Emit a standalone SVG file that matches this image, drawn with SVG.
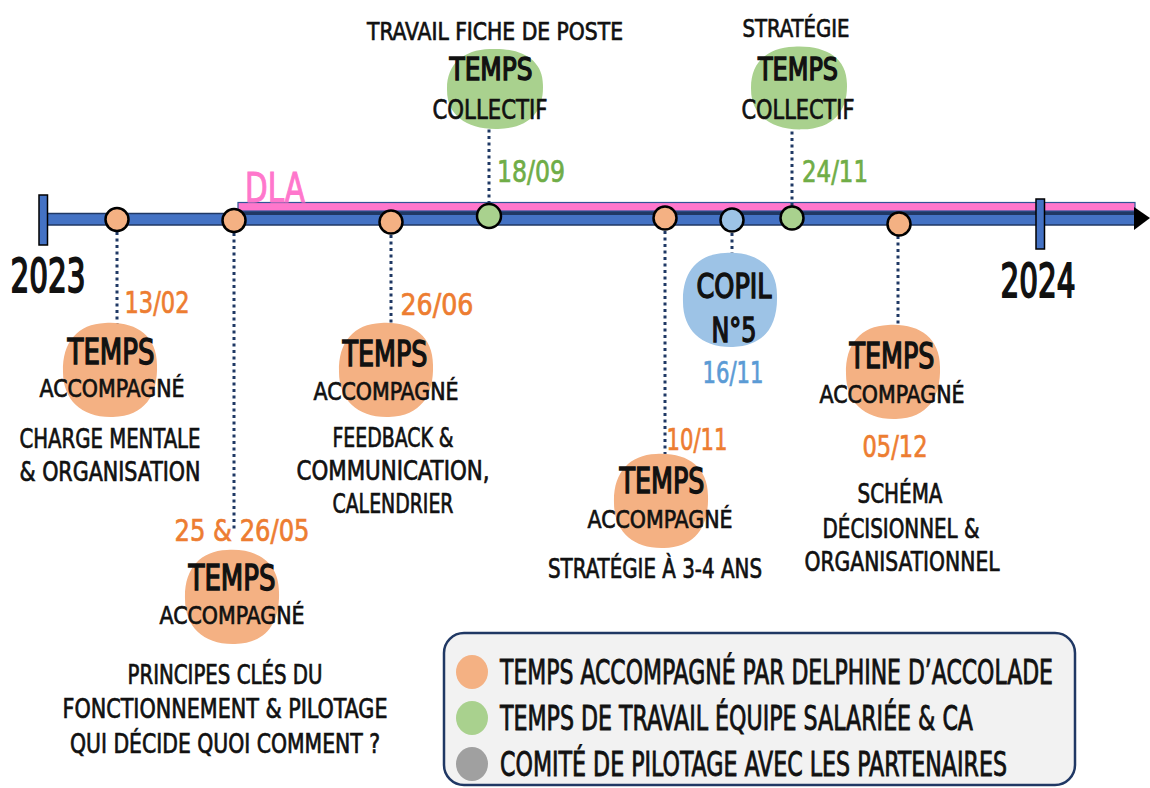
<svg xmlns="http://www.w3.org/2000/svg" xmlns:xlink="http://www.w3.org/1999/xlink" width="1150" height="788" viewBox="0 0 1150 788">
<style>
text{font-family:'DejaVu Sans Condensed','Liberation Sans',sans-serif;text-anchor:middle;fill:#111;stroke:#111;stroke-width:0.7;}
.big{font-size:35px;stroke-width:1.4;}
.sub{font-size:25px;}
.desc{font-size:27px;}
.date{font-size:31px;}
.yr{font-size:47px;stroke-width:1.8;}
.or{fill:#ed7d31;stroke:#ed7d31;}
.gr{fill:#70ad47;stroke:#70ad47;}
.bl{fill:#5b9bd5;stroke:#5b9bd5;}
.pk{fill:#ff77cc;stroke:#ff77cc;font-size:40px;stroke-width:1;}
.fo{fill:#f4b183;}
.fg{fill:#a9d18e;}
.fb{fill:#9dc3e6;}
.dot{stroke:#000;stroke-width:2.5;}
.conn{stroke:#1f3864;stroke-width:3;stroke-dasharray:3 3.5;fill:none;}
.leg{font-size:28px;text-anchor:start;}
</style>
<defs>
<path id="blob" d="M -5,-47 C 25,-49 47,-35 47,-5 C 48,25 35,46 3,47 C -28,48 -47,30 -47,2 C -48,-28 -32,-46 -5,-47 Z"/>
</defs>

<g id="timeline">
<rect x="47" y="213.5" width="1088" height="11.5" fill="#4472c4" stroke="#203864" stroke-width="1.5"/>
<rect x="238" y="210" width="897" height="5" fill="#203864"/>
<rect x="238" y="202.5" width="897" height="8.5" fill="#ff77cc" stroke="#2f5597" stroke-width="1.2"/>
<polygon points="1134,207 1150,218 1134,230" fill="#000"/>
<rect x="39" y="195" width="8.5" height="50" fill="#4472c4" stroke="#000" stroke-width="1.5"/>
<rect x="1036" y="199" width="8.5" height="50" fill="#4472c4" stroke="#000" stroke-width="1.5"/>
<text class="yr" x="48" y="292" textLength="75" lengthAdjust="spacingAndGlyphs">2023</text>
<text class="yr" x="1038" y="297" textLength="75" lengthAdjust="spacingAndGlyphs">2024</text>
<text class="pk" x="275" y="202" textLength="60" lengthAdjust="spacingAndGlyphs">DLA</text>
</g>

<g id="connectors">
<line class="conn" x1="117" y1="232" x2="117" y2="330"/>
<line class="conn" x1="234" y1="233" x2="234" y2="530"/>
<line class="conn" x1="391" y1="235" x2="391" y2="332"/>
<line class="conn" x1="489" y1="204" x2="489" y2="120"/>
<line class="conn" x1="665" y1="231" x2="665" y2="462"/>
<line class="conn" x1="732" y1="233" x2="732" y2="258"/>
<line class="conn" x1="792" y1="206" x2="792" y2="120"/>
<line class="conn" x1="898" y1="236" x2="898" y2="336"/>
</g>

<g id="markers">
<circle class="dot fo" cx="117" cy="219.5" r="11.5"/>
<circle class="dot fo" cx="234" cy="220.5" r="11.5"/>
<circle class="dot fo" cx="391" cy="222" r="11.5"/>
<circle class="dot fg" cx="489" cy="216" r="12"/>
<circle class="dot fo" cx="665" cy="218" r="11.5"/>
<circle class="dot fb" cx="732" cy="220" r="11.5"/>
<circle class="dot fg" cx="792" cy="218" r="11.5"/>
<circle class="dot fo" cx="899" cy="224" r="11.5"/>
</g>

<g id="n1302">
<use xlink:href="#blob" class="fo" transform="translate(110,370)"/>
<text class="date or" x="157" y="313" textLength="65" lengthAdjust="spacingAndGlyphs">13/02</text>
<text class="big" x="111" y="364" textLength="87" lengthAdjust="spacingAndGlyphs">TEMPS</text>
<text class="sub" x="112" y="397" textLength="145" lengthAdjust="spacingAndGlyphs">ACCOMPAGNÉ</text>
<text class="desc" x="110" y="448" textLength="181" lengthAdjust="spacingAndGlyphs">CHARGE MENTALE</text>
<text class="desc" x="110" y="481" textLength="181" lengthAdjust="spacingAndGlyphs">&amp; ORGANISATION</text>
</g>

<g id="n2505">
<use xlink:href="#blob" class="fo" transform="translate(232,597)"/>
<text class="date or" x="242" y="541" textLength="135" lengthAdjust="spacingAndGlyphs">25 &amp; 26/05</text>
<text class="big" x="232" y="590" textLength="87" lengthAdjust="spacingAndGlyphs">TEMPS</text>
<text class="sub" x="232" y="624" textLength="145" lengthAdjust="spacingAndGlyphs">ACCOMPAGNÉ</text>
<text class="desc" x="225" y="684" textLength="195" lengthAdjust="spacingAndGlyphs">PRINCIPES CLÉS DU</text>
<text class="desc" x="225" y="718" textLength="325" lengthAdjust="spacingAndGlyphs">FONCTIONNEMENT &amp; PILOTAGE</text>
<text class="desc" x="225" y="753" textLength="310" lengthAdjust="spacingAndGlyphs">QUI DÉCIDE QUOI COMMENT ?</text>
</g>

<g id="n2606">
<use xlink:href="#blob" class="fo" transform="translate(386,370)"/>
<text class="date or" x="437" y="315" textLength="73" lengthAdjust="spacingAndGlyphs">26/06</text>
<text class="big" x="385" y="366" textLength="85" lengthAdjust="spacingAndGlyphs">TEMPS</text>
<text class="sub" x="386" y="400" textLength="145" lengthAdjust="spacingAndGlyphs">ACCOMPAGNÉ</text>
<text class="desc" x="393" y="447" textLength="121" lengthAdjust="spacingAndGlyphs">FEEDBACK &amp;</text>
<text class="desc" x="393" y="480" textLength="193" lengthAdjust="spacingAndGlyphs">COMMUNICATION,</text>
<text class="desc" x="393" y="513" textLength="121" lengthAdjust="spacingAndGlyphs">CALENDRIER</text>
</g>

<g id="n1809">
<use xlink:href="#blob" class="fg" transform="translate(495,89) scale(1.02,0.85)"/>
<text class="sub" x="495" y="40" textLength="256" lengthAdjust="spacingAndGlyphs">TRAVAIL FICHE DE POSTE</text>
<text class="big" style="font-size:32px" x="491" y="80" textLength="83" lengthAdjust="spacingAndGlyphs">TEMPS</text>
<text class="desc" x="490" y="119" textLength="115" lengthAdjust="spacingAndGlyphs">COLLECTIF</text>
<text class="date gr" x="531" y="182" textLength="68" lengthAdjust="spacingAndGlyphs">18/09</text>
</g>

<g id="n1011">
<use xlink:href="#blob" class="fo" transform="translate(661,501)"/>
<text class="date or" x="697" y="450" textLength="61" lengthAdjust="spacingAndGlyphs">10/11</text>
<text class="big" x="662" y="493" textLength="85" lengthAdjust="spacingAndGlyphs">TEMPS</text>
<text class="sub" x="660" y="528" textLength="145" lengthAdjust="spacingAndGlyphs">ACCOMPAGNÉ</text>
<text class="desc" x="655" y="578" textLength="214" lengthAdjust="spacingAndGlyphs">STRATÉGIE À 3-4 ANS</text>
</g>

<g id="n1611">
<use xlink:href="#blob" class="fb" transform="translate(730,300)"/>
<text class="big" style="font-size:33px" x="734" y="298" textLength="75" lengthAdjust="spacingAndGlyphs">COPIL</text>
<text class="big" style="font-size:33px" x="734" y="342" textLength="45" lengthAdjust="spacingAndGlyphs">N°5</text>
<text class="date bl" x="733" y="383" textLength="61" lengthAdjust="spacingAndGlyphs">16/11</text>
</g>

<g id="n2411">
<use xlink:href="#blob" class="fg" transform="translate(799,88) scale(1.02,0.88)"/>
<text class="sub" x="796" y="37" textLength="107" lengthAdjust="spacingAndGlyphs">STRATÉGIE</text>
<text class="big" style="font-size:32px" x="798" y="80" textLength="80" lengthAdjust="spacingAndGlyphs">TEMPS</text>
<text class="desc" x="798" y="119" textLength="113" lengthAdjust="spacingAndGlyphs">COLLECTIF</text>
<text class="date gr" x="835" y="182" textLength="66" lengthAdjust="spacingAndGlyphs">24/11</text>
</g>

<g id="n0512">
<use xlink:href="#blob" class="fo" transform="translate(893,372)"/>
<text class="big" x="892" y="368" textLength="85" lengthAdjust="spacingAndGlyphs">TEMPS</text>
<text class="sub" x="892" y="403" textLength="145" lengthAdjust="spacingAndGlyphs">ACCOMPAGNÉ</text>
<text class="date or" x="895" y="457" textLength="65" lengthAdjust="spacingAndGlyphs">05/12</text>
<text class="desc" x="900" y="503" textLength="85" lengthAdjust="spacingAndGlyphs">SCHÉMA</text>
<text class="desc" x="901" y="538" textLength="157" lengthAdjust="spacingAndGlyphs">DÉCISIONNEL &amp;</text>
<text class="desc" x="902" y="571" textLength="195" lengthAdjust="spacingAndGlyphs">ORGANISATIONNEL</text>
</g>

<g id="legend">
<rect x="444" y="633" width="631" height="152" rx="20" fill="#f2f2f2" stroke="#203864" stroke-width="2.5"/>
<ellipse cx="472" cy="672" rx="16" ry="17" fill="#f4b183"/>
<ellipse cx="472" cy="718" rx="16" ry="17" fill="#a9d18e"/>
<ellipse cx="472" cy="764" rx="16" ry="17" fill="#a0a0a0"/>
<text class="leg" transform="translate(500,684) scale(1,1.18)" textLength="553" lengthAdjust="spacingAndGlyphs">TEMPS ACCOMPAGNÉ PAR DELPHINE D’ACCOLADE</text>
<text class="leg" transform="translate(500,730) scale(1,1.18)" textLength="473" lengthAdjust="spacingAndGlyphs">TEMPS DE TRAVAIL ÉQUIPE SALARIÉE &amp; CA</text>
<text class="leg" transform="translate(500,776) scale(1,1.18)" textLength="507" lengthAdjust="spacingAndGlyphs">COMITÉ DE PILOTAGE AVEC LES PARTENAIRES</text>
</g>
</svg>
